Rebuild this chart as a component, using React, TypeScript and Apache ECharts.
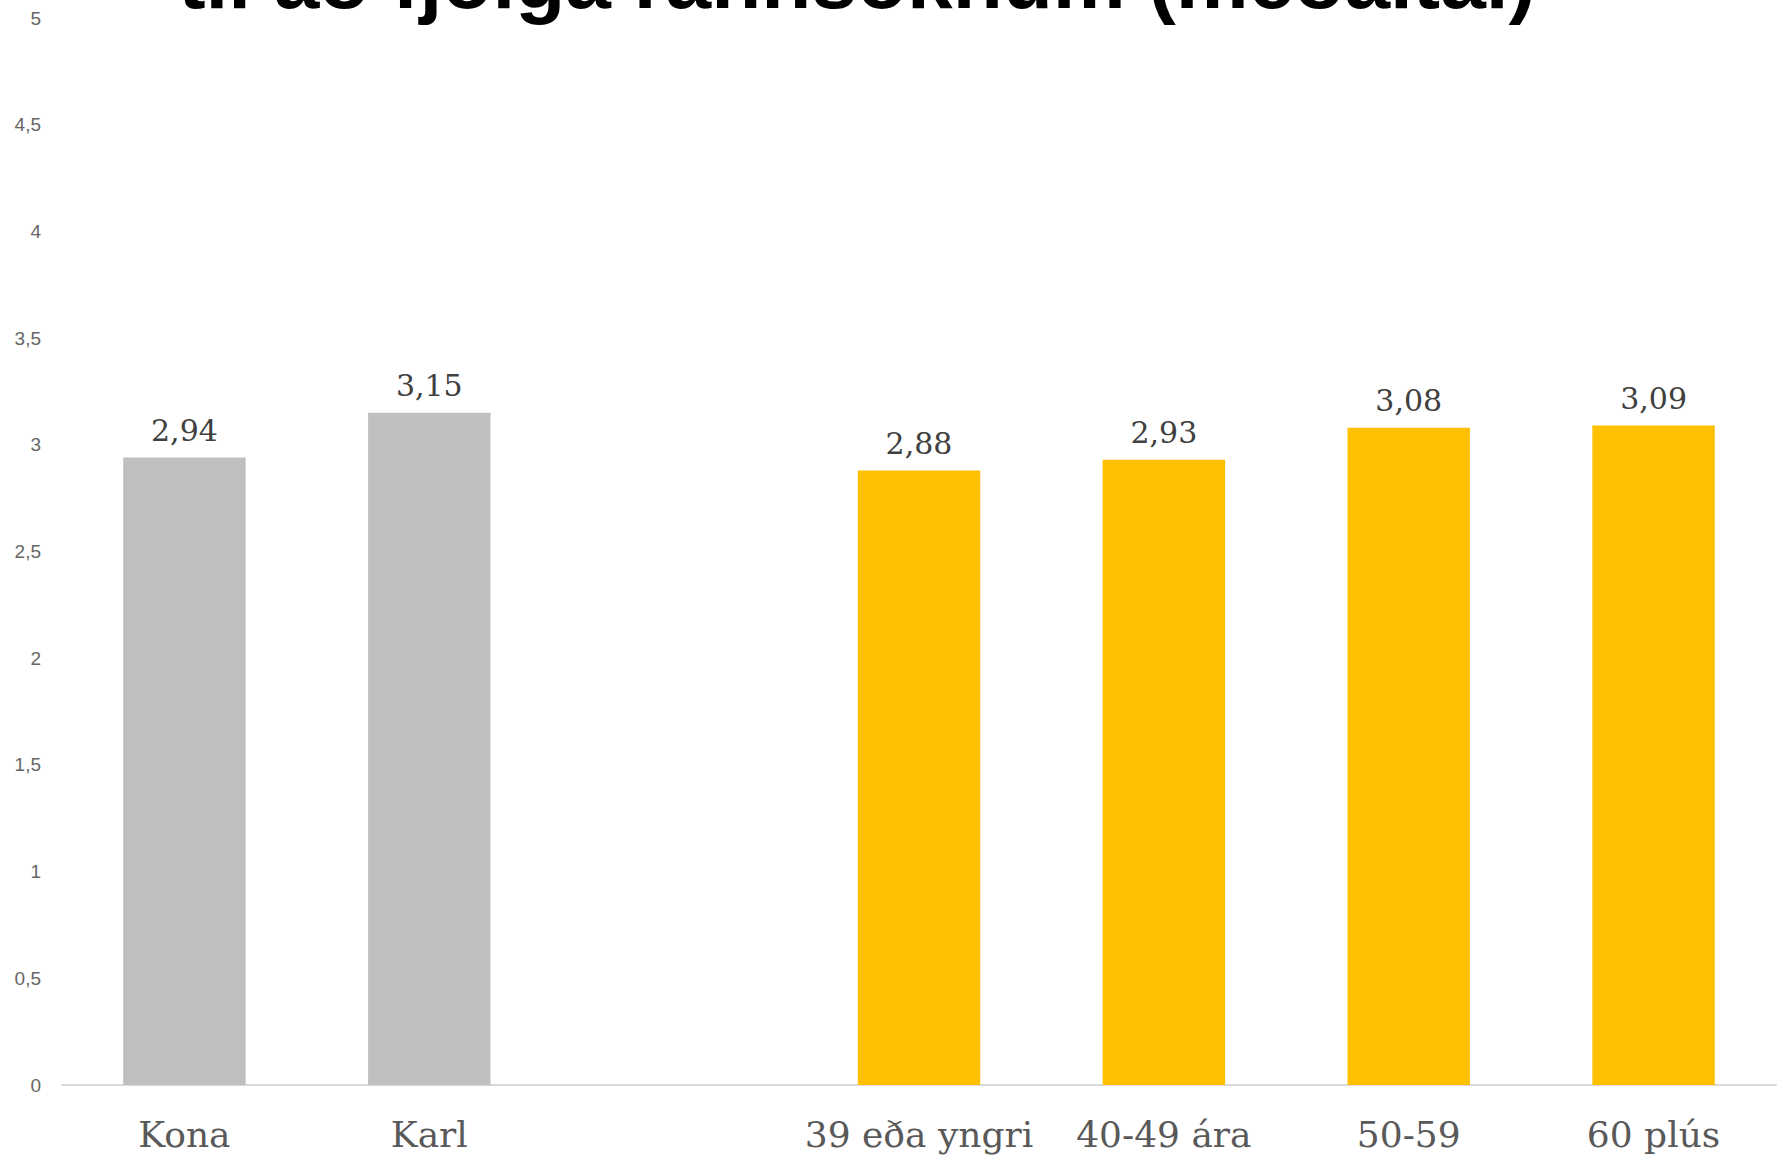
import React, { useEffect, useRef } from "react";
import * as echarts from "echarts";

const titleText = "til að fjölga rannsóknum (meðaltal)";
const categories = ["Kona", "Karl", "", "39 eða yngri", "40-49 ára", "50-59", "60 plús"];
const genderValues = [2.94, 3.15];
const ageValues = [2.88, 2.93, 3.08, 3.09];
const yMin = 0;
const yMax = 5;
const yInterval = 0.5;

const greyData = categories.map((_, i) => (i < genderValues.length ? genderValues[i] : "-"));
const yellowData = categories.map((_, i) => (i >= 3 ? ageValues[i - 3] : "-"));

const comma = (v: number, d?: number) =>
  (d === undefined ? String(v) : v.toFixed(d)).replace(".", ",");

export default function App() {
  const ref = useRef<HTMLDivElement>(null);
  useEffect(() => {
    document.body.style.margin = "0";
    if (!ref.current) return;
    const chart = echarts.init(ref.current, undefined, { renderer: "svg" });
    const valueLabel = {
      show: true,
      position: "top",
      distance: 12,
      color: "#404040",
      fontSize: 30,
      fontFamily: "DejaVu Serif",
      formatter: (p: any) => comma(p.value, 2),
    };
    chart.setOption({
      animation: false,
      backgroundColor: "#ffffff",
      grid: { left: 62, right: 7, top: 18, bottom: 71, containLabel: false },
      graphic: [
        {
          type: "text",
          x: 857,
          y: -21,
          style: {
            text: titleText,
            fontSize: 82,
            fontWeight: "bold",
            fontFamily: "Liberation Sans",
            fill: "#000000",
            align: "center",
            verticalAlign: "middle",
          },
        },
      ],
      xAxis: {
        type: "category",
        data: categories,
        axisLine: { lineStyle: { color: "#D9D9D9", width: 2 } },
        axisTick: { show: false },
        axisLabel: {
          color: "#595959",
          fontSize: 36,
          fontFamily: "DejaVu Serif",
          margin: 31,
          interval: 0,
        },
      },
      yAxis: {
        type: "value",
        min: yMin,
        max: yMax,
        interval: yInterval,
        axisLine: { show: false },
        axisTick: { show: false },
        splitLine: { show: false },
        axisLabel: {
          color: "#666666",
          fontSize: 19,
          fontFamily: "Liberation Sans",
          margin: 21,
          formatter: (v: number) => comma(v),
        },
      },
      series: [
        {
          type: "bar",
          stack: "s",
          data: greyData,
          barWidth: "50%",
          itemStyle: { color: "#BFBFBF" },
          label: valueLabel,
        },
        {
          type: "bar",
          stack: "s",
          data: yellowData,
          barWidth: "50%",
          itemStyle: { color: "#FFC000" },
          label: valueLabel,
        },
      ],
    });
    return () => chart.dispose();
  }, []);
  return <div ref={ref} style={{ width: 1783, height: 1156 }} />;
}
